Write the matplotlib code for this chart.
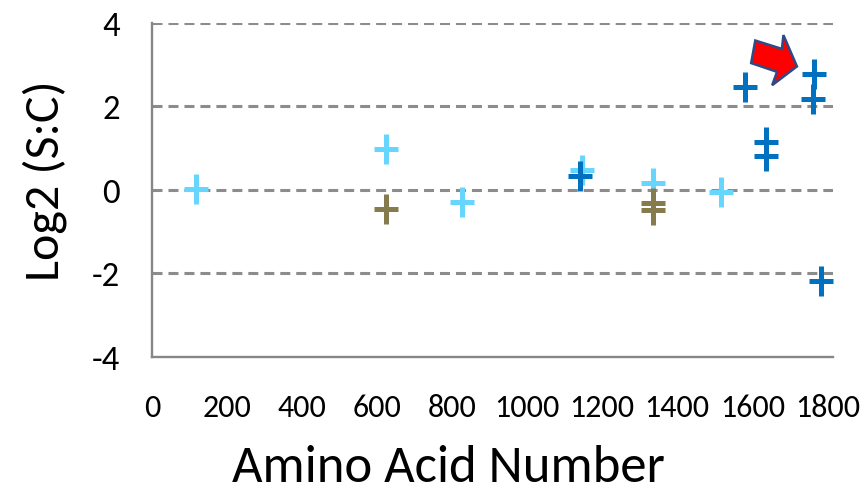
import matplotlib
matplotlib.use("Agg")
import matplotlib.pyplot as plt
from matplotlib.path import Path
from matplotlib.patches import Polygon

# Data

light_x = [117, 623, 826, 1146, 1336, 1517]
light_y = [0.02, 0.98, -0.29, 0.49, 0.17, -0.04]

olive_x = [623, 1336, 1336]
olive_y = [-0.45, -0.30, -0.48]

dark_x = [1141, 1581, 1637, 1637, 1765, 1762, 1783]
dark_y = [0.34, 2.46, 1.16, 0.81, 2.78, 2.18, -2.17]

x_ticks = [0, 200, 400, 600, 800, 1000, 1200, 1400, 1600, 1800]
y_ticks = [-4, -2, 0, 2, 4]

# red pointer arrow (data coordinates)
arrow_shape = [
    (1608, 3.58), (1679, 3.38), (1683, 3.71), (1719, 2.96),
    (1653, 2.51), (1666, 2.83), (1597, 3.04),
]

# Style

LIGHT = "#66D6FF"
OLIVE = "#857B4C"
DARK = "#0070C0"
GRID = "#8C8C8C"
FONT = ["Carlito", "DejaVu Sans"]

plt.rcParams["lines.scale_dashes"] = False

# tall thin plus sign (the original image is squeezed sideways)
plus = Path(
    [(-0.385, 0), (0.385, 0), (0, -0.5), (0, 0.5)],
    [Path.MOVETO, Path.LINETO, Path.MOVETO, Path.LINETO],
)

fig = plt.figure(figsize=(8.62, 5.02), dpi=100)
ax = fig.add_axes([0.1763, 0.2869, 0.7900, 0.6653])

for y in y_ticks[1:]:
    ax.axhline(y, color=GRID, lw=2.2, dashes=(7.2, 4.3), zorder=1)

marker_style = dict(linestyle="none", marker=plus, markersize=22,
                    markeredgewidth=3.6, zorder=3)
ax.plot(light_x, light_y, color=LIGHT, **marker_style)
ax.plot(olive_x, olive_y, color=OLIVE, **marker_style)
ax.plot(dark_x, dark_y, color=DARK, **marker_style)

ax.add_patch(Polygon(arrow_shape, closed=True, facecolor="#FF0000",
                     edgecolor="#2F4B86", lw=1.8, zorder=4))

ax.set_xlim(0, 1815)
ax.set_ylim(-4, 4)
ax.set_xticks(x_ticks)
ax.set_yticks(y_ticks)
ax.set_xticklabels([str(v) for v in x_ticks], family=FONT, fontsize=23)
ax.set_yticklabels([str(v) for v in y_ticks], family=FONT, fontsize=25)
ax.tick_params(axis="x", length=0, pad=26)
ax.tick_params(axis="y", length=0, pad=23)

for side in ["top", "right"]:
    ax.spines[side].set_visible(False)
for side in ["left", "bottom"]:
    ax.spines[side].set_color("#868686")
    ax.spines[side].set_linewidth(1.7)

ax.set_xlabel("Amino Acid Number", family=FONT, fontsize=38, va="center")
ax.xaxis.set_label_coords(0.435, -0.33)
ax.set_ylabel("Log2 (S:C)", family=FONT, fontsize=36, va="center")
ax.yaxis.set_label_coords(-0.157, 0.53)

fig.savefig("out.png", dpi=100)
